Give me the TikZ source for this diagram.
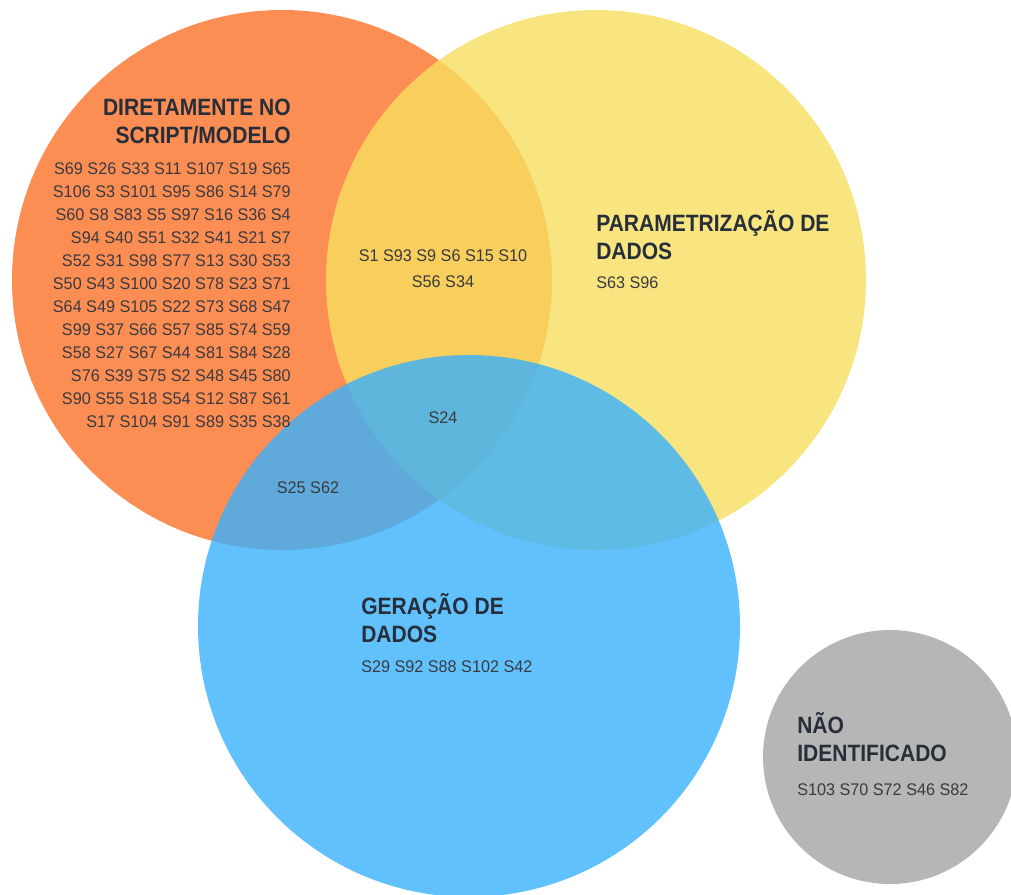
\documentclass[tikz,border=0pt]{standalone}
\usepackage{fontspec}
\setmainfont{Liberation Sans}
\newfontfamily\titlefont{Liberation Sans}[FakeStretch=0.89]
\newfontfamily\listfont{Liberation Sans}[FakeStretch=0.96]

\definecolor{laranja}{RGB}{253,142,83}
\definecolor{amarelo}{RGB}{247,222,96}
\definecolor{azul}{RGB}{56,177,253}
\definecolor{cinza}{RGB}{182,182,182}
\definecolor{titulo}{RGB}{38,46,58}
\definecolor{texto}{RGB}{58,58,64}

\begin{document}
\begin{tikzpicture}[x=0.025cm,y=-0.025cm,
    grupo/.style={font=\titlefont\bfseries\fontsize{16.8}{19.8}\selectfont, text=titulo, inner sep=0pt},
    lista/.style={font=\listfont\fontsize{12}{16.3}\selectfont, text=texto, inner sep=0pt}]
      \useasboundingbox (0,0) rectangle (1011,894);
      \clip (0,0) rectangle (1011,894);

      % circles
      \fill[laranja] (282,280) circle (270);
      \fill[amarelo, fill opacity=0.8] (596,280) circle (270);
      \fill[azul, fill opacity=0.8] (469,626) circle (271);
      \fill[cinza] (890,757) circle (127);

      % directly in script/model (base = last line)
      \node[grupo, align=right, anchor=base east] (tit-dir) at (291,143) {DIRETAMENTE NO\\SCRIPT/MODELO};
      \node[lista, align=right, anchor=base east] (lst-dir) at (291,427) {S69 S26 S33 S11 S107 S19 S65\\
        S106 S3 S101 S95 S86 S14 S79\\S60 S8 S83 S5 S97 S16 S36 S4\\S94 S40 S51 S32 S41 S21 S7\\
        S52 S31 S98 S77 S13 S30 S53\\S50 S43 S100 S20 S78 S23 S71\\S64 S49 S105 S22 S73 S68 S47\\
        S99 S37 S66 S57 S85 S74 S59\\S58 S27 S67 S44 S81 S84 S28\\S76 S39 S75 S2 S48 S45 S80\\
        S90 S55 S18 S54 S12 S87 S61\\S17 S104 S91 S89 S35 S38};

      % parametrization
      \node[grupo, align=left, anchor=base west] (tit-par) at (596,259) {PARAMETRIZAÇÃO DE\\DADOS};
      \node[lista, anchor=base west] (lst-par) at (596,288) {S63 S96};

      % overlaps
      \node[lista, align=center, anchor=base] (lst-dp) at (443,287) {S1 S93 S9 S6 S15 S10\\[1.5pt]S56 S34};
      \node[lista, anchor=base] (lst-todos) at (443,423) {S24};
      \node[lista, anchor=base] (lst-dg) at (308,493) {S25 S62};

      % data generation
      \node[grupo, align=left, anchor=base west] (tit-ger) at (361,642) {GERAÇÃO DE\\DADOS};
      \node[lista, anchor=base west] (lst-ger) at (361,672) {S29 S92 S88 S102 S42};

      % not identified
      \node[grupo, align=left, anchor=base west] (tit-ni) at (797,761) {NÃO\\IDENTIFICADO};
      \node[lista, anchor=base west] (lst-ni) at (797,795) {S103 S70 S72 S46 S82};
\end{tikzpicture}
\end{document}
